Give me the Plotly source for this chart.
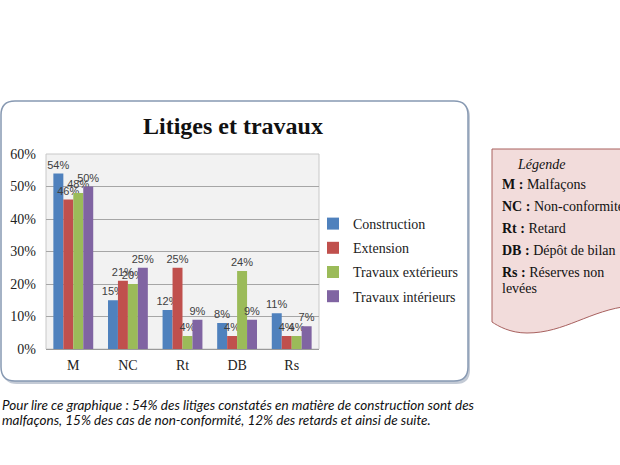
import plotly.graph_objects as go

# data
categories = ["M", "NC", "Rt", "DB", "Rs"]
construction = [54, 15, 12, 8, 11]
extension = [46, 21, 25, 4, 4]
travaux_ext = [48, 20, 4, 24, 4]
travaux_int = [50, 25, 9, 9, 7]
series_names = ["Construction", "Extension", "Travaux extérieurs", "Travaux intérieurs"]
y_ticks = [0, 10, 20, 30, 40, 50, 60]

legend_lines = [
    ("M :", "Malfaçons"),
    ("NC :", "Non-conformité"),
    ("Rt :", "Retard"),
    ("DB :", "Dépôt de bilan"),
    ("Rs :", "Réserves non"),
]
footnote = [
    "Pour lire ce graphique : 54% des litiges constatés en matière de construction sont des",
    "malfaçons, 15% des cas de non-conformité, 12% des retards et ainsi de suite.",
]

colors = ["#4f81bd", "#c0504d", "#9bbb59", "#8064a2"]

W, H = 620, 465
L, R, T, B = 46, 319, 154, 349   # plot area in pixels


def px(x):
    return (x - L) / (R - L)


def py(y):
    return (B - y) / (B - T)


def rounded_rect(x0, y0, x1, y1, r):
    pts = [
        f"M {px(x0 + r)},{py(y0)}",
        f"L {px(x1 - r)},{py(y0)}",
        f"Q {px(x1)},{py(y0)} {px(x1)},{py(y0 + r)}",
        f"L {px(x1)},{py(y1 - r)}",
        f"Q {px(x1)},{py(y1)} {px(x1 - r)},{py(y1)}",
        f"L {px(x0 + r)},{py(y1)}",
        f"Q {px(x0)},{py(y1)} {px(x0)},{py(y1 - r)}",
        f"L {px(x0)},{py(y0 + r)}",
        f"Q {px(x0)},{py(y0)} {px(x0 + r)},{py(y0)}",
        "Z",
    ]
    return " ".join(pts)


fig = go.Figure()

for i, vals in enumerate([construction, extension, travaux_ext, travaux_int]):
    fig.add_trace(go.Bar(
        x=categories, y=vals, name=series_names[i],
        marker=dict(color=colors[i], line=dict(width=0)),
        text=vals, texttemplate="%{text}%", textposition="outside",
        textfont=dict(family="Liberation Sans", size=11, color="#404040"),
        constraintext="none", cliponaxis=False,
        legendgroup=str(i),
    ))

shapes = [
    # shadow of the chart frame
    dict(type="path", xref="paper", yref="paper", layer="below",
         path=rounded_rect(3, 103, 470, 384, 14),
         fillcolor="#c3cad5", line=dict(width=0)),
    # chart frame
    dict(type="path", xref="paper", yref="paper", layer="below",
         path=rounded_rect(1, 101, 468, 381, 14),
         fillcolor="white", line=dict(color="#8799b2", width=1.5)),
    # plot area
    dict(type="rect", xref="paper", yref="paper", layer="below",
         x0=0, x1=1, y0=0, y1=1,
         fillcolor="#f2f2f2", line=dict(color="#c8c8c8", width=1)),
    # pink legend box with wavy bottom
    dict(type="path", xref="paper", yref="paper", layer="below",
         path=(f"M {px(492)},{py(149)} L {px(630)},{py(149)} L {px(630)},{py(306)} "
               f"C {px(590)},{py(310)} {px(565)},{py(333)} {px(527)},{py(333)} "
               f"C {px(510)},{py(333)} {px(498)},{py(326)} {px(492)},{py(322)} Z"),
         fillcolor="#f2dcdb", line=dict(color="#a8615f", width=1)),
]

annotations = [
    dict(text="<b>Litiges et travaux</b>", x=px(233), y=py(126), xref="paper", yref="paper",
         showarrow=False, xanchor="center", yanchor="middle",
         font=dict(family="Liberation Serif", size=24, color="#111")),
    dict(text="<i>Légende</i>", x=px(541), y=py(164), xref="paper", yref="paper",
         showarrow=False, xanchor="center", yanchor="middle",
         font=dict(family="Liberation Serif", size=14, color="#111")),
]
for k, (abbr, label) in enumerate(legend_lines):
    annotations.append(dict(
        text=f"<b>{abbr}</b> {label}", x=px(500), y=py(184 + 22 * k),
        xref="paper", yref="paper", showarrow=False, xanchor="left", yanchor="middle",
        font=dict(family="Liberation Serif", size=14, color="#111")))
annotations.append(dict(
    text="levées", x=px(500), y=py(288), xref="paper", yref="paper",
    showarrow=False, xanchor="left", yanchor="middle",
    font=dict(family="Liberation Serif", size=14, color="#111")))
for k, line in enumerate(footnote):
    annotations.append(dict(
        text=f"<i>{line}</i>", x=px(0), y=py(405 + 15 * k), xref="paper", yref="paper",
        showarrow=False, xanchor="left", yanchor="middle",
        font=dict(family="Lato", size=13.5, color="#111")))

fig.update_layout(
    width=W, height=H,
    margin=dict(l=L, r=W - R, t=T, b=H - B, pad=0, autoexpand=False),
    paper_bgcolor="white", plot_bgcolor="rgba(0,0,0,0)",
    barmode="group", bargap=0.27, bargroupgap=0,
    showlegend=True,
    legend=dict(x=px(313), y=py(260), xanchor="left", yanchor="middle",
                font=dict(family="Liberation Serif", size=14, color="#222"),
                bgcolor="rgba(0,0,0,0)", tracegroupgap=3, itemwidth=30),
    shapes=shapes, annotations=annotations,
    xaxis=dict(showgrid=False, showline=True, linecolor="#9a9a9a", linewidth=1,
               ticks="", ticklabelstandoff=3, automargin=False,
               tickfont=dict(family="Liberation Serif", size=14, color="#222"),
               fixedrange=True),
    yaxis=dict(range=[0, 60], tickvals=y_ticks, ticktext=[f"{v}%" for v in y_ticks],
               showgrid=True, gridcolor="#a6a6a6", gridwidth=1,
               zeroline=False, showline=False, ticks="", ticklabelstandoff=9,
               automargin=False,
               tickfont=dict(family="Liberation Serif", size=14, color="#222"),
               fixedrange=True),
)

# the page has a default 8px body margin; drop it so the figure sits at 0,0
fig.write_html("out.html", config={"displayModeBar": False},
               post_script="document.body.style.margin='0';")
